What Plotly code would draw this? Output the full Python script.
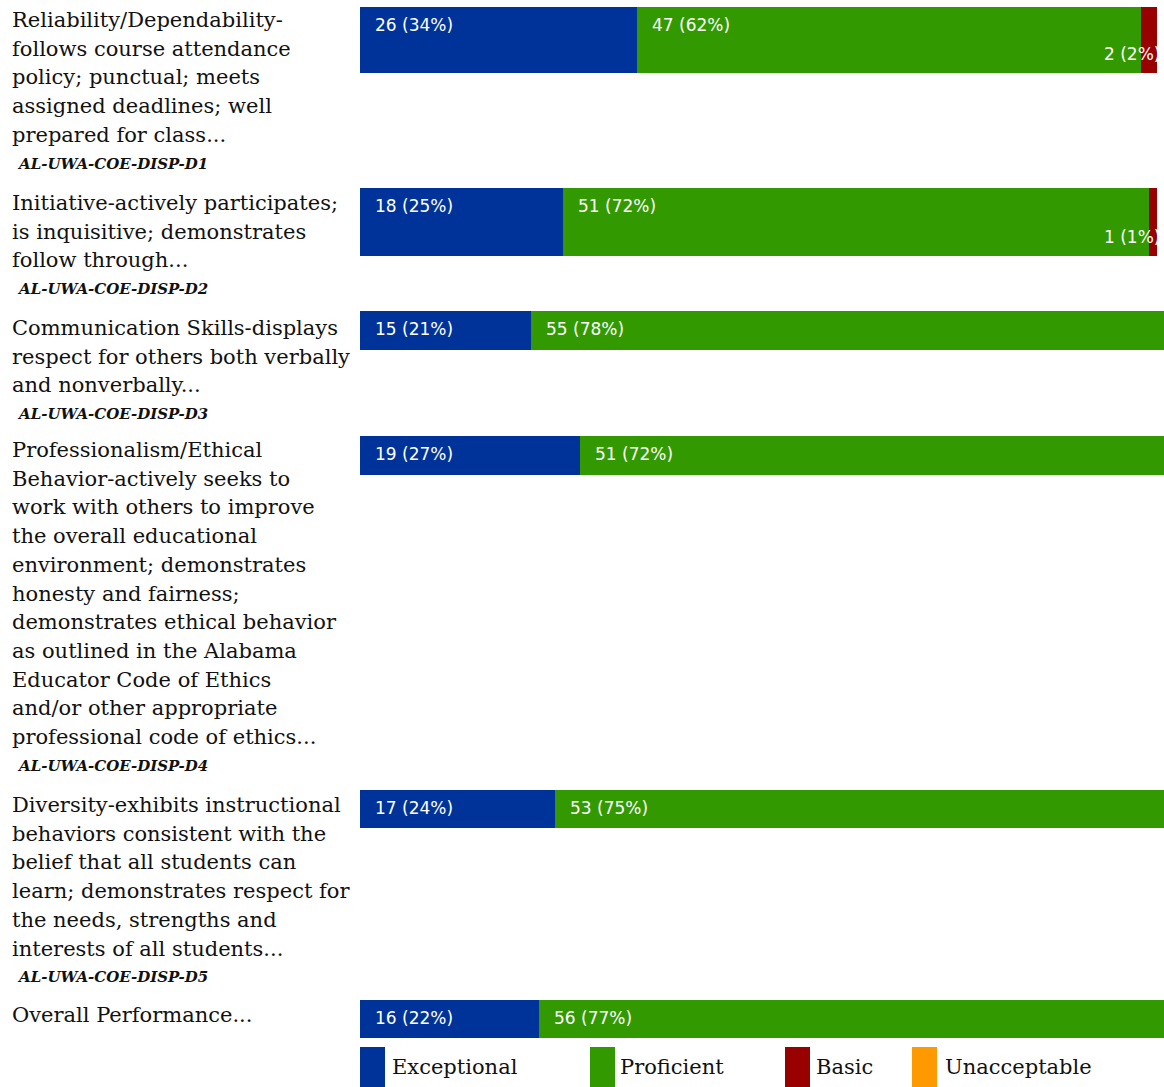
import plotly.graph_objects as go

# ---------------- data ----------------
row_labels = [
    ["Reliability/Dependability-", "follows course attendance", "policy; punctual; meets",
     "assigned deadlines; well", "prepared for class..."],
    ["Initiative-actively participates;", "is inquisitive; demonstrates", "follow through..."],
    ["Communication Skills-displays", "respect for others both verbally", "and nonverbally..."],
    ["Professionalism/Ethical", "Behavior-actively seeks to", "work with others to improve",
     "the overall educational", "environment; demonstrates", "honesty and fairness;",
     "demonstrates ethical behavior", "as outlined in the Alabama", "Educator Code of Ethics",
     "and/or other appropriate", "professional code of ethics..."],
    ["Diversity-exhibits instructional", "behaviors consistent with the",
     "belief that all students can", "learn; demonstrates respect for",
     "the needs, strengths and", "interests of all students..."],
    ["Overall Performance..."],
]
row_codes = ["AL-UWA-COE-DISP-D1", "AL-UWA-COE-DISP-D2", "AL-UWA-COE-DISP-D3",
             "AL-UWA-COE-DISP-D4", "AL-UWA-COE-DISP-D5", ""]

series_names = ["Exceptional", "Proficient", "Basic", "Unacceptable"]
exceptional_n = [26, 18, 15, 19, 17, 16]
exceptional_pct = [34, 25, 21, 27, 24, 22]
proficient_n = [47, 51, 55, 51, 53, 56]
proficient_pct = [62, 72, 78, 72, 75, 77]
basic_n = [2, 1, 0, 0, 0, 0]
basic_pct = [2, 1, 0, 0, 0, 0]
unacceptable_n = [0, 0, 0, 0, 0, 0]
unacceptable_pct = [0, 0, 0, 0, 0, 0]

series_n = [exceptional_n, proficient_n, basic_n, unacceptable_n]
series_pct = [exceptional_pct, proficient_pct, basic_pct, unacceptable_pct]

# ---------------- style / layout ----------------
W, H = 1164, 1087
colors = ["#003399", "#339900", "#990000", "#FF9900"]
label_font = "DejaVu Serif"
bar_font = "DejaVu Sans"
PLOT_LEFT = 360
X_MAX = 98.8
bar_px = [(7, 73), (188, 256), (311, 350), (436, 475), (790, 828), (1000, 1038)]
text_first_center = [20, 203, 328, 450, 805, 1015]
LINE = 28.7
legend_rect_x = [360, 590, 785, 912]
legend_text_x = [390, 618, 814, 943]

fig = go.Figure()
annotations = []
layout_axes = {}

for r in range(len(row_labels)):
    k = r + 1
    xa = "x" if k == 1 else f"x{k}"
    ya = "y" if k == 1 else f"y{k}"
    top, bot = bar_px[r]
    layout_axes["xaxis" if k == 1 else f"xaxis{k}"] = dict(
        domain=[PLOT_LEFT / W, 1], range=[0, X_MAX], visible=False, anchor=ya, fixedrange=True)
    layout_axes["yaxis" if k == 1 else f"yaxis{k}"] = dict(
        domain=[1 - bot / H, 1 - top / H], visible=False, anchor=xa, fixedrange=True)
    cum = 0
    for s in range(len(series_names)):
        v = series_pct[s][r]
        fig.add_trace(go.Bar(
            x=[v], y=[row_codes[r] or "overall"], orientation="h", xaxis=xa, yaxis=ya,
            marker=dict(color=colors[s], line=dict(width=0)), name=series_names[s],
            showlegend=False, hoverinfo="skip"))
        if series_n[s][r] > 0:
            txt = f"{series_n[s][r]} ({v}%)"
            if s < 2:
                annotations.append(dict(
                    x=cum, xref=xa, y=1, yref=f"{ya} domain", text=txt, showarrow=False,
                    xanchor="left", yanchor="top", xshift=13, yshift=-6,
                    font=dict(family=bar_font, size=17, color="white")))
            else:
                annotations.append(dict(
                    x=1, xref=f"{xa} domain", y=0, yref=f"{ya} domain", text=txt,
                    showarrow=False, xanchor="right", yanchor="bottom", xshift=-2, yshift=7,
                    font=dict(family=bar_font, size=17, color="white")))
        cum += v

    # left-hand row label, one annotation per line
    for i, line in enumerate(row_labels[r]):
        yc = text_first_center[r] + i * LINE
        annotations.append(dict(
            x=10 / W, xref="paper", y=1 - yc / H, yref="paper", text=line, showarrow=False,
            xanchor="left", yanchor="middle",
            font=dict(family=label_font, size=21, color="#111111")))
    if row_codes[r]:
        yc = text_first_center[r] + len(row_labels[r]) * LINE
        annotations.append(dict(
            x=15 / W, xref="paper", y=1 - yc / H, yref="paper",
            text=f"<b><i>{row_codes[r]}</i></b>", showarrow=False,
            xanchor="left", yanchor="middle",
            font=dict(family=label_font, size=15, color="#111111")))

# custom legend
shapes = []
for s, name in enumerate(series_names):
    x0 = legend_rect_x[s]
    shapes.append(dict(type="rect", xref="paper", yref="paper",
                       x0=x0 / W, x1=(x0 + 25) / W, y0=0, y1=1 - 1047 / H,
                       fillcolor=colors[s], line=dict(width=0)))
    annotations.append(dict(
        x=legend_text_x[s] / W, xref="paper", y=1 - 1067 / H, yref="paper", text=name,
        showarrow=False, xanchor="left", yanchor="middle",
        font=dict(family=label_font, size=21, color="#111111")))

fig.update_layout(
    width=W, height=H, autosize=False,
    margin=dict(l=0, r=0, t=0, b=0),
    paper_bgcolor="white", plot_bgcolor="white",
    barmode="stack", bargap=0, showlegend=False,
    annotations=annotations, shapes=shapes,
    **layout_axes,
)

fig.write_html(
    "out.html",
    config={"displayModeBar": False, "staticPlot": True},
    post_script="document.body.style.margin='0';document.body.style.overflow='hidden';",
)
